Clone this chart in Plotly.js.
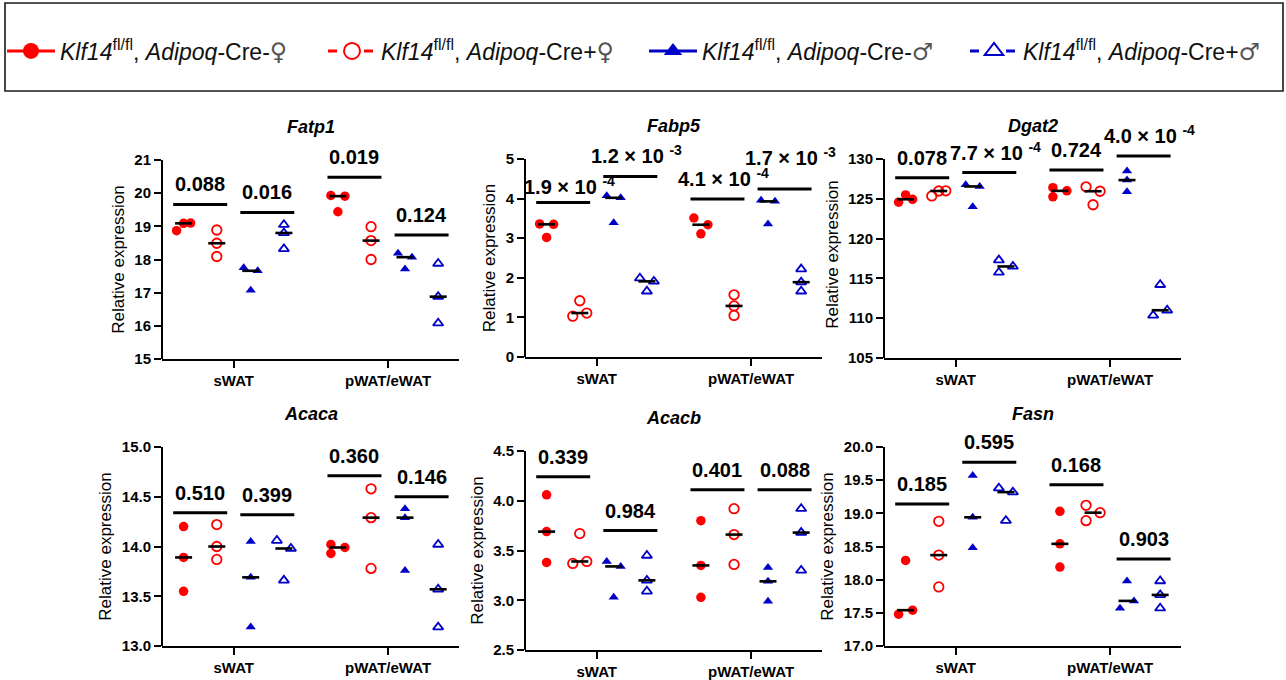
<!DOCTYPE html>
<html><head><meta charset="utf-8">
<script src="https://cdn.plot.ly/plotly-3.0.1.min.js"></script>
<style>html,body{margin:0;padding:0;background:#fff}</style>
</head><body><div id="chart" style="width:1286px;height:680px"></div>
<script>
// ---------------- data ----------------
const groups = ['sWAT', 'pWAT/eWAT'];
const FEMALE = '<span style="font-family:DejaVu Sans;font-size:24px;color:#555">♀</span>';
const MALE = '<span style="font-family:DejaVu Sans;font-size:24px;color:#555">♂</span>';
const seriesNames = [
  '<i>Klf14</i><sup>fl/fl</sup>, <i>Adipoq</i>-Cre-' + FEMALE,
  '<i>Klf14</i><sup>fl/fl</sup>, <i>Adipoq</i>-Cre+' + FEMALE,
  '<i>Klf14</i><sup>fl/fl</sup>, <i>Adipoq</i>-Cre-' + MALE,
  '<i>Klf14</i><sup>fl/fl</sup>, <i>Adipoq</i>-Cre+' + MALE
];
const genes = ['Fatp1', 'Fabp5', 'Dgat2', 'Acaca', 'Acacb', 'Fasn'];

// values: [series][replicate] ; series order = Cre-♀, Cre+♀, Cre-♂, Cre+♂
const fatp1_sWAT = [[18.87, 19.09, 19.10], [18.89, 18.49, 18.09], [17.75, 17.66, 17.07], [19.05, 18.80, 18.32]];
const fatp1_pWAT = [[19.93, 19.91, 19.44], [18.99, 18.57, 18.00], [18.19, 18.07, 17.71], [17.88, 16.88, 16.08]];
const fabp5_sWAT = [[3.36, 3.35, 3.02], [1.03, 1.42, 1.11], [4.07, 4.02, 3.39], [1.99, 1.91, 1.66]];
const fabp5_pWAT = [[3.51, 3.34, 3.11], [1.57, 1.29, 1.05], [3.96, 3.93, 3.36], [2.22, 1.89, 1.66]];
const dgat2_sWAT = [[124.57, 125.48, 124.94], [125.36, 125.98, 126.00], [126.75, 126.55, 124.00], [117.30, 116.50, 115.75]];
const dgat2_pWAT = [[126.40, 126.00, 125.25], [126.50, 125.95, 124.25], [128.50, 127.35, 125.90], [114.20, 110.35, 111.00]];
const acaca_sWAT = [[14.20, 13.89, 13.55], [14.22, 14.00, 13.87], [14.05, 13.69, 13.19], [14.06, 13.98, 13.66]];
const acaca_pWAT = [[14.02, 13.93, 13.99], [14.58, 14.29, 13.78], [14.38, 14.29, 13.76], [14.02, 13.57, 13.19]];
const acacb_sWAT = [[4.06, 3.69, 3.38], [3.67, 3.37, 3.39], [3.39, 3.34, 3.03], [3.45, 3.20, 3.09]];
const acacb_pWAT = [[3.80, 3.35, 3.03], [3.92, 3.66, 3.36], [3.33, 3.19, 2.99], [3.92, 3.68, 3.30]];
const fasn_sWAT = [[17.48, 17.54, 18.29], [18.88, 18.37, 17.89], [19.57, 18.94, 18.48], [19.38, 19.32, 18.89]];
const fasn_pWAT = [[19.03, 18.54, 18.19], [19.12, 19.01, 18.89], [17.57, 17.68, 17.98], [17.98, 17.77, 17.57]];

// comparison levels (sWAT ♀, sWAT ♂, pWAT ♀, pWAT ♂) and p-values
const fatp1_barLevel = [19.66, 19.42, 20.48, 18.74];
const fabp5_barLevel = [3.90, 4.56, 3.99, 4.24];
const dgat2_barLevel = [127.66, 128.29, 128.62, 130.38];
const acaca_barLevel = [14.34, 14.32, 14.71, 14.50];
const acacb_barLevel = [4.24, 3.70, 4.11, 4.11];
const fasn_barLevel = [19.14, 19.77, 19.43, 18.31];
const fatp1_p = ['0.088', '0.016', '0.019', '0.124'];
const fabp5_p = ['1.9 × 10 <sup>-4</sup>', '1.2 × 10 <sup>-3</sup>', '4.1 × 10 <sup>-4</sup>', '1.7 × 10 <sup>-3</sup>'];
const dgat2_p = ['0.078', '7.7 × 10 <sup>-4</sup>', '0.724', '4.0 × 10 <sup>-4</sup>'];
const acaca_p = ['0.510', '0.399', '0.360', '0.146'];
const acacb_p = ['0.339', '0.984', '0.401', '0.088'];
const fasn_p = ['0.185', '0.595', '0.168', '0.903'];

// y axis scales
const yMin = [15, 0, 105, 13.0, 2.5, 17.0];
const yMax = [21, 5, 130, 15.0, 4.5, 20.0];
const yStep = [1, 1, 5, 0.5, 0.5, 0.5];

// ---------------- layout / styling ----------------
const W = 1286, H = 680;
const FONT = 'Liberation Sans, Arial, sans-serif';
const RED = '#ff0000', BLUE = '#0000c8';
const panelData = [
  [fatp1_sWAT, fatp1_pWAT, fatp1_barLevel, fatp1_p],
  [fabp5_sWAT, fabp5_pWAT, fabp5_barLevel, fabp5_p],
  [dgat2_sWAT, dgat2_pWAT, dgat2_barLevel, dgat2_p],
  [acaca_sWAT, acaca_pWAT, acaca_barLevel, acaca_p],
  [acacb_sWAT, acacb_pWAT, acacb_barLevel, acacb_p],
  [fasn_sWAT, fasn_pWAT, fasn_barLevel, fasn_p]
];
// pixel boxes of plot areas [left, right, top(yMax), bottom(yMin)]
const boxes = [
  [162, 459, 160, 359], [525, 822, 159, 357], [884, 1181, 159, 358],
  [162, 459, 447, 646], [525, 822, 451, 650], [884, 1181, 447, 646]
];
// extra upward shift (px) for p-value labels, per panel
const labelLift = [[0, 0, 0, 0], [-4, 0, 0, 11], [0, 0, 0, 0], [0, 0, 0, 0], [0, 0, 0, 0], [0, 0, 0, 0]];
const XR = [-0.465, 1.46];
const subOffset = [-0.325, -0.11, 0.11, 0.325];
const markerStyle = [
  {symbol: 'circle', color: RED, size: 9.5},
  {symbol: 'circle-open', color: RED, size: 9.5, line: {color: RED, width: 1.8}},
  {symbol: 'triangle-up', color: BLUE, size: 9},
  {symbol: 'triangle-up-open', color: BLUE, size: 9, line: {color: BLUE, width: 1.8}}
];

function jitter(vals, pxPerUnit) {
  const thr = 8.15, n = vals.length;
  const idx = vals.map((v, i) => i).sort((a, b) => vals[b] - vals[a]);
  const clusters = []; let cur = [idx[0]];
  for (let j = 1; j < n; j++) {
    if ((vals[idx[j - 1]] - vals[idx[j]]) * pxPerUnit < thr) cur.push(idx[j]);
    else { clusters.push(cur); cur = [idx[j]]; }
  }
  clusters.push(cur);
  const off = new Array(n).fill(0);
  clusters.forEach(c => {
    if (c.length === 2) { const s = c.slice().sort((p, q) => p - q); off[s[0]] = -1; off[s[1]] = 1; }
    else if (c.length === 3) {
      const span = (vals[c[0]] - vals[c[2]]) * pxPerUnit;
      if (span >= thr) { off[c[0]] = -1; off[c[1]] = 1; off[c[2]] = -1; }
      else { const s = c.slice().sort((p, q) => p - q); off[s[0]] = -1; off[s[1]] = 0; off[s[2]] = 1; }
    }
  });
  return off;
}
const median = a => { const s = a.slice().sort((p, q) => p - q); return s[Math.floor(s.length / 2)]; };

const traces = [], annotations = [], shapes = [];
const layout = {
  width: W, height: H, margin: {l: 0, r: 0, t: 0, b: 0},
  paper_bgcolor: '#fff', plot_bgcolor: 'rgba(0,0,0,0)',
  font: {family: FONT, color: '#000'},
  showlegend: true,
  legend: {orientation: 'h', x: 0.0065, xanchor: 'left', y: 1 - 51 / H, yanchor: 'middle',
    font: {family: FONT, size: 23, color: '#111'}, itemwidth: 48, entrywidth: 258,
    bgcolor: 'rgba(0,0,0,0)', borderwidth: 0, itemclick: false, itemdoubleclick: false},
  annotations, shapes
};

panelData.forEach((pd, i) => {
  const k = i + 1;
  const [L, R, T, B] = boxes[i];
  const r0 = yMin[i], r1 = yMax[i];
  const pxY = (B - T) / (r1 - r0);
  const pxX = (R - L) / (XR[1] - XR[0]);
  const bars = pd[2];
  const rTop = Math.max(r1, Math.max(...bars) + 5 / pxY);
  const topPx = B - (rTop - r0) * pxY;
  const xa = 'x' + k, ya = 'y' + k;
  const jw = 7 / pxX;

  // points
  for (let s = 0; s < 4; s++) {
    const xs = [], ys = [];
    [0, 1].forEach(g => {
      const vals = pd[g][s];
      const off = jitter(vals, pxY);
      vals.forEach((v, j) => { xs.push(g + subOffset[s] + off[j] * jw); ys.push(v); });
    });
    const ms = markerStyle[s];
    traces.push({type: 'scatter', mode: 'markers', x: xs, y: ys, xaxis: xa, yaxis: ya, showlegend: false,
      hoverinfo: 'y', cliponaxis: false,
      marker: {symbol: ms.symbol, size: ms.size, color: ms.color, line: ms.line || {width: 0}}});
  }
  // medians
  const mx = [], my = [];
  const mw = 8.5 / pxX;
  [0, 1].forEach(g => {
    for (let s = 0; s < 4; s++) {
      const m = median(pd[g][s]);
      const c = g + subOffset[s];
      mx.push(c - mw, c + mw, null); my.push(m, m, null);
    }
  });
  traces.push({type: 'scatter', mode: 'lines', x: mx, y: my, xaxis: xa, yaxis: ya, showlegend: false,
    hoverinfo: 'skip', line: {color: '#000', width: 2.6}});
  // comparison bars + p values
  const bx = [], by = [];
  const bw = 27 / pxX;
  [0, 1].forEach(g => {
    [0, 1].forEach(sex => {
      const c = g + (subOffset[sex * 2] + subOffset[sex * 2 + 1]) / 2;
      const lvl = bars[g * 2 + sex];
      const label = pd[3][g * 2 + sex];
      bx.push(c - bw, c + bw, null); by.push(lvl, lvl, null);
      annotations.push({xref: xa, yref: ya, x: c, y: lvl, text: '<b>' + label + '</b>',
        showarrow: false, xanchor: 'center', yanchor: 'bottom', yshift: 7 + labelLift[i][g * 2 + sex],
        xshift: label.indexOf('<sup>') >= 0 ? 6 : 0,
        font: {family: FONT, size: 20, color: '#000'}});
    });
  });
  traces.push({type: 'scatter', mode: 'lines', x: bx, y: by, xaxis: xa, yaxis: ya, showlegend: false,
    hoverinfo: 'skip', line: {color: '#000', width: 3}});

  // title
  annotations.push({xref: xa + ' domain', yref: ya, x: 0.5, y: r1, yshift: 33, yanchor: 'middle',
    text: '<b><i>' + genes[i] + '</i></b>', showarrow: false, font: {family: FONT, size: 18, color: '#000'}});

  // y axis line up to the top tick
  shapes.push({type: 'line', xref: xa + ' domain', yref: ya, x0: 0, x1: 0, y0: r0, y1: r1,
    line: {color: '#000', width: 2}});

  const tv = [], tt = [];
  const dec = yStep[i] < 1 ? 1 : 0;
  for (let v = r0; v <= r1 + 1e-9; v += yStep[i]) { tv.push(v); tt.push(v.toFixed(dec)); }

  layout['xaxis' + k] = {domain: [L / W, R / W], range: XR, anchor: ya, showline: true, linewidth: 2,
    linecolor: '#000', ticks: 'outside', ticklen: 7, tickwidth: 2, tickcolor: '#000',
    tickvals: [0, 1], ticktext: groups, showgrid: false, zeroline: false, automargin: false, fixedrange: true,
    tickfont: {family: FONT, size: 15, color: '#000', weight: 'bold'}};
  layout['yaxis' + k] = {domain: [1 - B / H, 1 - topPx / H], range: [r0, rTop], anchor: xa, showline: false,
    ticks: 'outside', ticklen: 7, tickwidth: 2, tickcolor: '#000', tickvals: tv, ticktext: tt,
    showgrid: false, zeroline: false, automargin: false, fixedrange: true,
    tickfont: {family: FONT, size: 15, color: '#000', weight: 'bold'},
    title: {text: 'Relative expression', font: {family: FONT, size: 17, color: '#000'}, standoff: 5}};
});

// legend entries (open symbols drawn with a white fill so the dashed line does not show through)
const legendDash = ['solid', 'dash', 'solid', 'dash'];
const legendColor = [RED, RED, BLUE, BLUE];
const legendSymbol = ['circle', 'circle', 'triangle-up', 'triangle-up'];
for (let s = 0; s < 4; s++) {
  const open = s % 2 === 1;
  traces.push({type: 'scatter', mode: 'lines+markers', x: [null], y: [null], xaxis: 'x1', yaxis: 'y1',
    name: seriesNames[s], showlegend: true, hoverinfo: 'skip',
    line: {color: legendColor[s], width: 3, dash: legendDash[s]},
    marker: {symbol: legendSymbol[s], size: 16, color: open ? '#ffffff' : legendColor[s],
      line: {color: legendColor[s], width: open ? 2 : 0}}});
}
// legend frame
shapes.push({type: 'rect', xref: 'paper', yref: 'paper', x0: 5 / W, x1: 1283 / W, y0: 1 - 91 / H, y1: 1 - 3 / H,
  line: {color: '#1a1a1a', width: 1.6}, fillcolor: 'rgba(0,0,0,0)'});

Plotly.newPlot('chart', traces, layout, {displayModeBar: false, staticPlot: true});
</script>
</body></html>
